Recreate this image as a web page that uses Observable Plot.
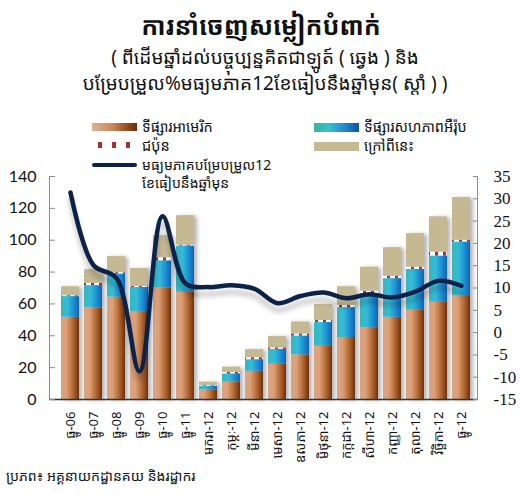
<!DOCTYPE html>
<html><head><meta charset="utf-8">
<script src="https://cdn.jsdelivr.net/npm/d3@7"></script>
<script src="https://cdn.jsdelivr.net/npm/@observablehq/plot@0.6"></script>
<style>
body{margin:0;background:#fff;width:522px;height:494px;position:relative;overflow:hidden;font-family:"Noto Sans Khmer","Khmer OS","Khmer OS System","Noto Sans",sans-serif;color:#111;}
.abs{position:absolute;white-space:nowrap;}
#title{left:0;top:5px;width:522px;text-align:center;font-size:25px;font-weight:bold;line-height:40px;}
.sub{left:0;width:530px;text-align:center;font-size:19px;line-height:22px;}
.sw{position:absolute;width:45px;height:8px;}
.lg{position:absolute;font-size:14.5px;line-height:18px;white-space:nowrap;}
#chart{position:absolute;left:0;top:105px;}
#src{left:6px;top:466px;font-size:14px;line-height:20px;}
</style></head>
<body>
<div id="title" class="abs">ការនាំចេញសម្លៀកបំពាក់</div>
<div class="abs sub" style="top:46px">( ពីដើមឆ្នាំដល់បច្ចុប្បន្នគិតជាឡូត៍ ( ឆ្វេង ) និង</div>
<div class="abs sub" style="top:72px">បម្រែបម្រួល%មធ្យមភាគ12ខែធៀបនឹងឆ្នាំមុន( ស្តាំ ) )</div>
<div id="chart"></div>
<div class="sw" style="left:92px;top:123px;background:linear-gradient(to right,#ddb096,#c98a5e 45%,#9a5222 75%,#6a2c0a);"></div>
<div class="sw" style="left:92px;top:142px;height:6px;background:repeating-linear-gradient(to right,#fff 0 6px,#a8302c 6px 10px,#fff 10px 14px);"></div>
<div class="sw" style="left:92px;top:163px;height:4px;border-radius:2px;background:#0c2248;"></div>
<div class="sw" style="left:314px;top:123px;height:9px;background:linear-gradient(to right,#37b497,#38c0d4 35%,#1f86cc 70%,#1150a4);"></div>
<div class="sw" style="left:314px;top:142px;height:9px;background:#c4b993;"></div>
<div class="lg" style="left:142px;top:117px">ទីផ្សារអាមេរិក</div>
<div class="lg" style="left:142px;top:136px">ជប៉ុន</div>
<div class="lg" style="left:142px;top:156px;font-size:14px">មធ្យមភាគបម្រែបម្រួល12<br>ខែធៀបនឹងឆ្នាំមុន</div>
<div class="lg" style="left:364px;top:117px">ទីផ្សារសហភាពអឺរ៉ុប</div>
<div class="lg" style="left:364px;top:136px">ក្រៅពីនេះ</div>
<div id="src" class="abs">ប្រភព៖ អគ្គនាយកដ្ឋានគយ និងរដ្ឋាករ</div>
<script>
const categories = ["ធ្នូ-06","ធ្នូ-07","ធ្នូ-08","ធ្នូ-09","ធ្នូ-10","ធ្នូ-11","មករា-12","កុម្ភៈ-12","មីនា-12","មេសា-12","ឧសភា-12","មិថុនា-12","កក្កដា-12","សីហា-12","កញ្ញា-12","តុលា-12","វិច្ឆិកា-12","ធ្នូ-12"];
const america = [51.6,57.5,64.2,55.2,70.0,67.3,6.1,10.9,17.7,22.1,28.0,33.4,38.9,45.1,51.6,56.0,61.0,65.2];
const europe  = [13.0,14.0,14.6,15.2,17.1,29.1,2.1,5.2,7.3,9.4,11.9,14.9,18.8,21.5,24.3,25.7,29.1,33.7];
const japan   = [0.5,1.4,0.8,0.6,1.9,0.5,0.4,0.9,1.2,0.9,1.2,1.3,1.4,1.4,1.4,1.4,2.4,1.1];
const other   = [5.7,8.6,10.1,11.3,13.8,18.5,2.3,3.3,5.1,7.1,7.6,10.0,11.7,15.1,18.0,21.0,22.2,26.8];
const avgChange = [31.4,15.1,12.2,-8.7,26.1,11.0,10.2,10.6,9.8,6.6,8.2,9.0,7.7,8.6,7.9,9.2,11.6,10.5];
const seriesNames = ["ទីផ្សារអាមេរិក","ទីផ្សារសហភាពអឺរ៉ុប","ជប៉ុន","ក្រៅពីនេះ"];
const leftTicks = [0,20,40,60,80,100,120,140];
const rightTicks = [-15,-10,-5,0,5,10,15,20,25,30,35];

const toLeft = v => (v + 15) * 2.8;
const seriesVals = [america, europe, japan, other];
const table = [];
categories.forEach((c, i) => seriesNames.forEach((s, k) => table.push({cat: c, series: s, value: seriesVals[k][i]})));
const lineData = categories.map((c, i) => ({cat: c, v: avgChange[i]}));

const chart = Plot.plot({
  width: 522, height: 365,
  marginLeft: 49, marginRight: 45, marginTop: 71, marginBottom: 71,
  x: {domain: categories, paddingInner: 0.21, paddingOuter: 0.1, insetLeft: 5, label: null},
  y: {domain: [0, 140], label: null},
  color: {domain: seriesNames, range: ["url(#gBrown)", "url(#gBlue)", "url(#pJapan)", "#c4b993"]},
  style: {fontFamily: "'Noto Sans Khmer','Khmer OS','Noto Sans',sans-serif", background: "white", color: "#111"},
  marks: [
    Plot.barY(table, {x: "cat", y: "value", fill: "series"}),
    Plot.line(lineData, {x: "cat", y: d => toLeft(d.v), curve: "catmull-rom", stroke: "#0c2248", strokeWidth: 4.5, strokeLinecap: "round"}),
    Plot.frame({anchor: "left", stroke: "#8c8c8c"}),
    Plot.frame({anchor: "right", stroke: "#8c8c8c"}),
    Plot.ruleY([0], {stroke: "#333", strokeWidth: 1.3}),
    Plot.axisY(leftTicks, {anchor: "left", tickSize: 0, tickPadding: 13, fontSize: 16, fontFamily: "Lato, 'Open Sans', sans-serif", label: null}),
    Plot.axisY(leftTicks, {anchor: "left", tickSize: 6, dx: 6, tickFormat: () => "", stroke: "#8c8c8c", label: null}),
    Plot.axisY(rightTicks.map(toLeft), {anchor: "right", tickSize: 0, tickPadding: 16, fontSize: 17, fontFamily: "'Liberation Serif','DejaVu Serif',serif", tickFormat: d => `${Math.round(d / 2.8 - 15)}`, label: null, textAnchor: "start"}),
    Plot.axisY(rightTicks.map(toLeft), {anchor: "right", tickSize: 5, dx: -5, tickFormat: () => "", stroke: "#8c8c8c", label: null}),
    Plot.axisX({tickRotate: -90, tickSize: 0, tickPadding: 12, fontSize: 13, label: null})
  ]
});

const ns = "http://www.w3.org/2000/svg";
const defs = document.createElementNS(ns, "defs");
defs.innerHTML = `
<linearGradient id="gBrown" x1="0" x2="1" y1="0" y2="0">
  <stop offset="0" stop-color="#d9a483"/><stop offset="0.3" stop-color="#dca078"/>
  <stop offset="0.55" stop-color="#c27a48"/><stop offset="0.8" stop-color="#9a5220"/><stop offset="1" stop-color="#6b300c"/>
</linearGradient>
<linearGradient id="gBlue" x1="0" x2="1" y1="0" y2="0">
  <stop offset="0" stop-color="#35b7c0"/><stop offset="0.35" stop-color="#36bcd6"/>
  <stop offset="0.65" stop-color="#1f96d6"/><stop offset="1" stop-color="#0f62b2"/>
</linearGradient>
<pattern id="pJapan" patternUnits="userSpaceOnUse" width="8" height="4">
  <rect width="8" height="4" fill="#fff"/><rect x="3" y="0" width="3" height="4" fill="#a8302c"/>
</pattern>
<filter id="shBar" x="-20%" y="-10%" width="140%" height="120%">
  <feDropShadow dx="3" dy="1" stdDeviation="2" flood-color="#000" flood-opacity="0.3"/>
</filter>
<filter id="shLine" x="-10%" y="-20%" width="120%" height="160%">
  <feDropShadow dx="0" dy="7" stdDeviation="2.5" flood-color="#000" flood-opacity="0.22"/>
</filter>`;
chart.insertBefore(defs, chart.firstChild);
const gb = chart.querySelector('g[aria-label="bar"]');
if (gb) gb.setAttribute("filter", "url(#shBar)");
const gl = chart.querySelector('g[aria-label="line"]');
if (gl) gl.setAttribute("filter", "url(#shLine)");
document.getElementById("chart").appendChild(chart);
</script>
</body></html>
